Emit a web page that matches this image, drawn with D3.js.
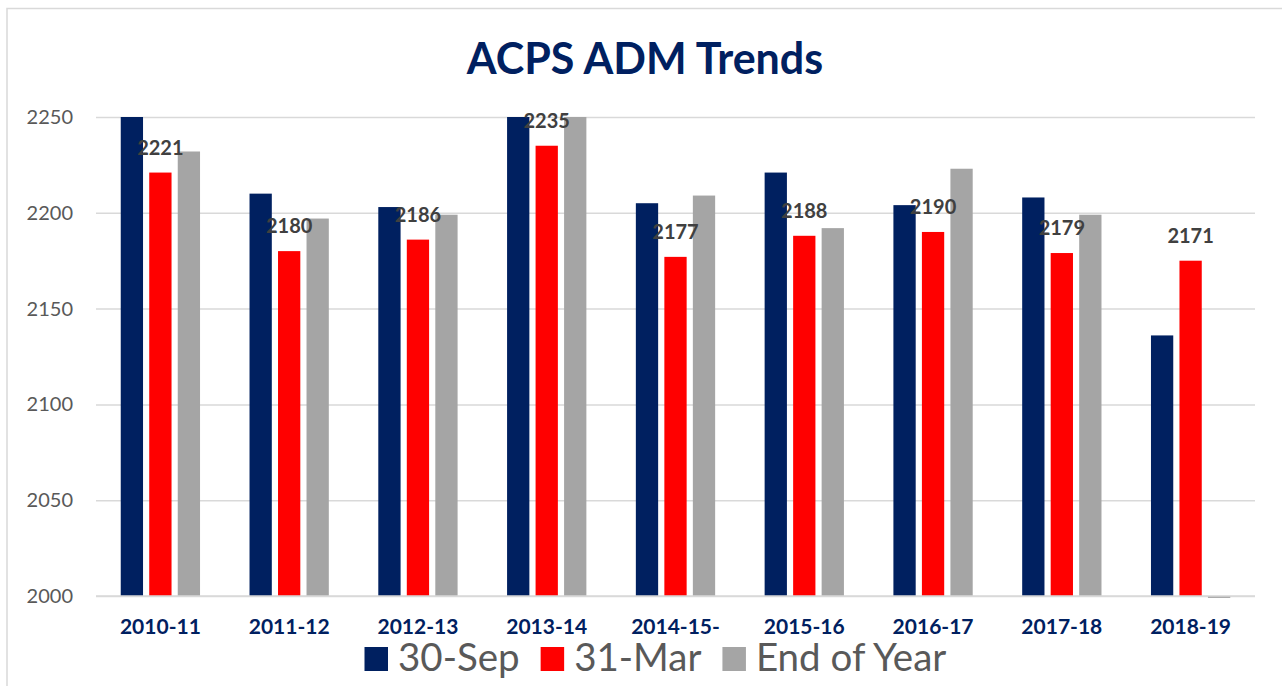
<!DOCTYPE html>
<html>
<head>
<meta charset="utf-8">
<script src="https://cdn.jsdelivr.net/npm/d3@7"></script>
<style>
  html, body { margin: 0; padding: 0; background: #fff; }
  svg { display: block; }
  text { font-family: Lato, "Open Sans", sans-serif; }
</style>
</head>
<body>
<svg id="chart" width="1282" height="686"></svg>
<script>
// ---- data ----
const categories = ["2010-11", "2011-12", "2012-13", "2013-14", "2014-15-", "2015-16", "2016-17", "2017-18", "2018-19"];
const seriesNames = ["30-Sep", "31-Mar", "End of Year"];
const sep30 = [2266, 2210, 2203, 2262, 2205, 2221, 2204, 2208, 2136];
const mar31 = [2221, 2180, 2186, 2235, 2177, 2188, 2190, 2179, 2175];
const endOfYear = [2232, 2197, 2199, 2258, 2209, 2192, 2223, 2199, 1999];
const dataLabels = ["2221", "2180", "2186", "2235", "2177", "2188", "2190", "2179", "2171"];
const yTicks = [2000, 2050, 2100, 2150, 2200, 2250];
const title = "ACPS ADM Trends";

const colors = ["#002060", "#ff0000", "#a5a5a5"];
const seriesValues = [sep30, mar31, endOfYear];

const svg = d3.select("#chart");
const W = 1282, H = 686;
const plot = { left: 96, right: 1255, top: 117, bottom: 596 };

// chart frame
svg.append("rect")
  .attr("x", 7).attr("y", 8.5)
  .attr("width", W + 20).attr("height", H + 20)
  .attr("fill", "#fff").attr("stroke", "#d9d9d9").attr("stroke-width", 1.5);

// scales
const y = d3.scaleLinear().domain([2000, 2250]).range([plot.bottom, plot.top]);
const x0 = d3.scaleBand().domain(categories).range([plot.left, plot.right]).paddingInner(0).paddingOuter(0);
const x1 = d3.scaleBand().domain(seriesNames).range([0, x0.bandwidth()]).paddingInner(0.218).paddingOuter(0.868);

// gridlines
const yAxis = d3.axisLeft(y).tickValues(yTicks).tickSize(-(plot.right - plot.left)).tickPadding(23).tickFormat(d3.format("d"));
const gy = svg.append("g").attr("transform", `translate(${plot.left},0)`).call(yAxis);
gy.select(".domain").remove();
gy.selectAll(".tick line").attr("stroke", "#d9d9d9").attr("stroke-width", 1.5);
gy.selectAll(".tick text").attr("fill", "#595959").style("font-size", "20px").style("font-family", "Lato, sans-serif");

// clip
svg.append("clipPath").attr("id", "plotclip").append("rect")
  .attr("x", plot.left).attr("y", plot.top)
  .attr("width", plot.right - plot.left).attr("height", plot.bottom - plot.top + 6);

// bars
const rows = categories.map((c, i) => ({ cat: c, vals: seriesNames.map((s, j) => ({ s, j, v: seriesValues[j][i] })) }));
const groups = svg.append("g").attr("clip-path", "url(#plotclip)")
  .selectAll("g").data(rows).join("g")
  .attr("transform", d => `translate(${x0(d.cat)},0)`);
groups.selectAll("rect").data(d => d.vals).join("rect")
  .attr("x", d => x1(d.s))
  .attr("width", x1.bandwidth())
  .attr("y", d => Math.min(y(d.v), y(2000)))
  .attr("height", d => Math.abs(y(2000) - y(d.v)))
  .attr("fill", d => colors[d.j]);

// baseline on top
svg.append("line")
  .attr("x1", plot.left).attr("x2", plot.right)
  .attr("y1", y(2000)).attr("y2", y(2000))
  .attr("stroke", "#d9d9d9").attr("stroke-width", 1.5);

// data labels (on 31-Mar series)
svg.append("g").selectAll("text").data(categories).join("text")
  .attr("x", (c) => x0(c) + x1("31-Mar") + x1.bandwidth() / 2)
  .attr("y", (c, i) => y(mar31[i]) - 18)
  .attr("text-anchor", "middle")
  .attr("fill", "#404040")
  .style("font-size", "20px").style("font-weight", "bold")
  .text((c, i) => dataLabels[i]);

// category axis labels
svg.append("g").selectAll("text").data(categories).join("text")
  .attr("x", c => x0(c) + x0.bandwidth() / 2)
  .attr("y", 634)
  .attr("text-anchor", "middle")
  .attr("fill", "#002060")
  .style("font-size", "21px").style("font-weight", "bold")
  .text(c => c);

// title
svg.append("text")
  .attr("x", 645).attr("y", 74)
  .attr("text-anchor", "middle")
  .attr("fill", "#002060")
  .style("font-size", "43px").style("font-weight", "bold")
  .text(title);

// legend
const legend = svg.append("g");
let lx = 364.5;
seriesNames.forEach((s, j) => {
  legend.append("rect").attr("x", lx).attr("y", 647).attr("width", 23.5).attr("height", 24).attr("fill", colors[j]);
  const t = legend.append("text").attr("x", lx + 33.5).attr("y", 671)
    .attr("fill", "#595959").style("font-size", "38.5px").text(s);
  lx += 33.5 + t.node().getComputedTextLength() + 21;
});
</script>
</body>
</html>
